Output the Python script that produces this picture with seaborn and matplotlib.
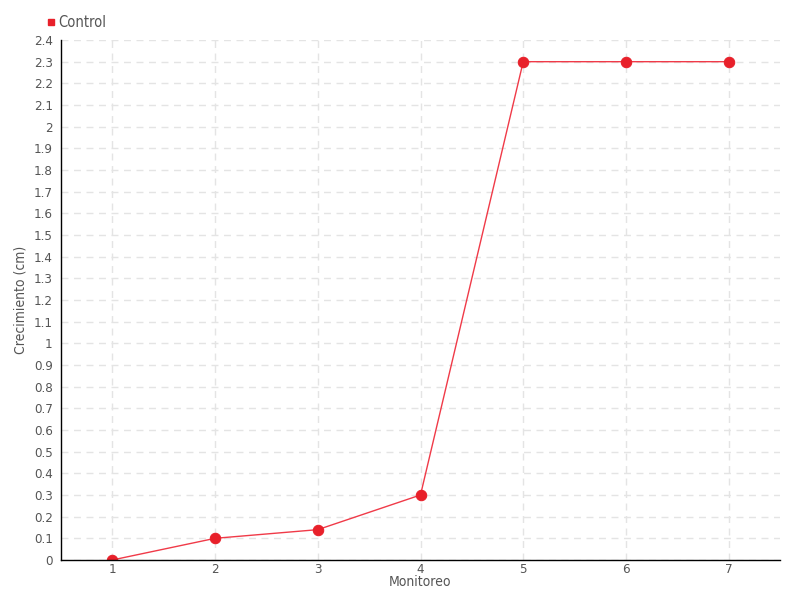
import numpy as np
import pandas as pd
import seaborn as sns
import matplotlib.pyplot as plt
from matplotlib.lines import Line2D
from matplotlib.ticker import FuncFormatter, MultipleLocator

# values
monitoreo = [1, 2, 3, 4, 5, 6, 7]
crecimiento = [0, 0.1, 0.14, 0.3, 2.3, 2.3, 2.3]
serie = "Control"

df = pd.DataFrame({"Monitoreo": monitoreo, "Crecimiento": crecimiento})

sns.set_style("white")
plt.rcParams['font.family'] = ['DejaVu Sans']
plt.rcParams['font.stretch'] = 'condensed'

text_col = "#555555"
red = "#e8202a"

fig = plt.figure(figsize=(8, 6), dpi=100)
ax = fig.add_axes([0.07625, 0.0667, 0.89875, 0.8666])

sns.lineplot(data=df, x="Monitoreo", y="Crecimiento", ax=ax, color="#f03a48",
             linewidth=1, marker="o", markersize=7.5, markerfacecolor=red,
             markeredgecolor=red)

ax.set_xlim(0.5, 7.5)
ax.set_ylim(0, 2.4)
ax.set_xticks(monitoreo)
ax.yaxis.set_major_locator(MultipleLocator(0.1))
ax.yaxis.set_major_formatter(FuncFormatter(lambda v, p: f"{v:.1f}".rstrip("0").rstrip(".")))

ax.grid(True, color="#e4e4e4", linestyle=(0, (5, 4)), linewidth=1)
for s in ["top", "right"]:
    ax.spines[s].set_visible(False)
for s in ["left", "bottom"]:
    ax.spines[s].set_color("black")
    ax.spines[s].set_linewidth(1)

ax.tick_params(axis="both", colors="black", labelcolor=text_col, labelsize=9.5,
               length=4, width=1, direction="out", pad=2)
ax.tick_params(axis="x", pad=-2)

ax.set_xlabel("Monitoreo", color=text_col, fontsize=10)
ax.set_ylabel("Crecimiento (cm)", color=text_col, fontsize=10)
ax.xaxis.set_label_coords(0.499, -0.029)
ax.yaxis.set_label_coords(-0.046, 0.5)

handle = Line2D([], [], marker="s", color="none", markerfacecolor=red,
                markeredgecolor=red, markersize=5)
fig.legend([handle], [serie], loc="upper left", bbox_to_anchor=(0.042, 0.997),
           frameon=False, handlelength=0.6, handletextpad=0.2,
           prop={"size": 10.5, "stretch": "condensed"}, labelcolor=text_col)

fig.savefig("out.png", dpi=100)
